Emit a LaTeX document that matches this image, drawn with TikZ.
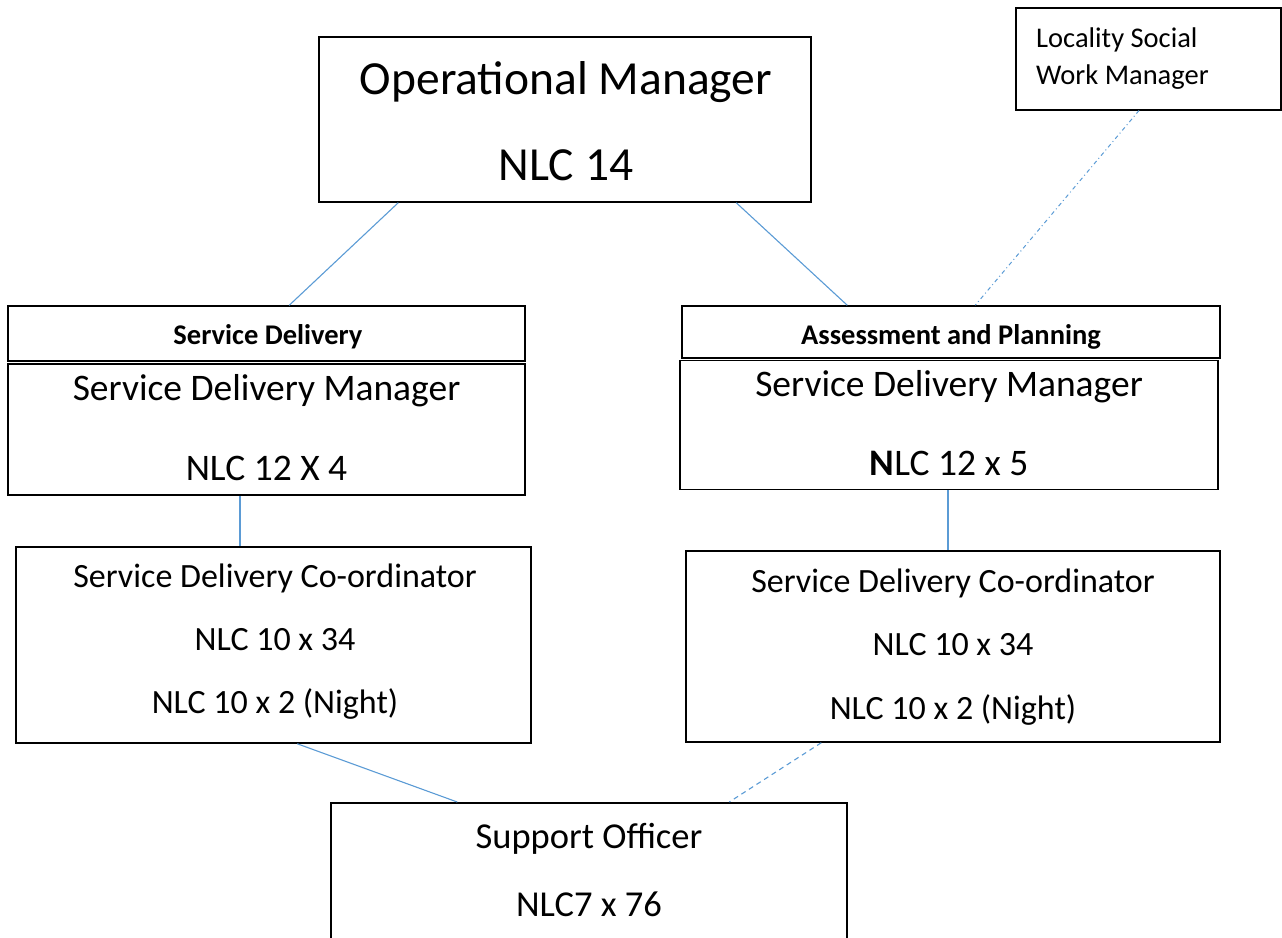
\documentclass[tikz,border=0pt]{standalone}
\usepackage{fontspec}
\setmainfont{Carlito}
\begin{document}
\begin{tikzpicture}[x=1pt,y=-1pt,
  box/.style={draw=black,line width=1.5pt,inner sep=0pt,fill=white},
  txt/.style={anchor=base,inner sep=0pt,text=black},
  link/.style={draw={rgb,255:red,91;green,155;blue,213},line width=1.1pt},
  linkdash/.style={link,dash pattern=on 5pt off 4pt},
  linkdashdot/.style={link,line width=1pt,dash pattern=on 4pt off 3pt on 1pt off 3pt},
  fsOM/.style={font=\fontsize{47.5}{52}\selectfont},
  fsSDM/.style={font=\fontsize{37.5}{40}\selectfont},
  fsCO/.style={font=\fontsize{34}{38}\selectfont},
  fsHD/.style={font=\fontsize{28.5}{32}\selectfont\bfseries},
  fsLO/.style={font=\fontsize{28.5}{32}\selectfont},
  fsSO/.style={font=\fontsize{36.5}{40}\selectfont}]
\useasboundingbox (0,0) rectangle (1282,937);
\clip (0,0) rectangle (1282,937);

% boxes
\node[box,minimum width=492pt,minimum height=165pt] (om) at (565,119.5) {};
\node[box,minimum width=265pt,minimum height=102pt,anchor=north west] (loc) at (1015,7) {};
\node[box,minimum width=517pt,minimum height=55pt] (sdh) at (266.5,333.5) {};
\node[box,minimum width=517pt,minimum height=131pt] (sdm) at (266.5,429.5) {};
\node[box,minimum width=538pt,minimum height=52pt] (aph) at (951,332) {};
\node[box,minimum width=538pt,minimum height=129pt] (apm) at (949,425) {};
\node[box,minimum width=515pt,minimum height=196pt] (sdc) at (273.5,645) {};
\node[box,minimum width=534pt,minimum height=191pt] (apc) at (953,646.5) {};
\node[box,minimum width=516pt,minimum height=160pt,anchor=north] (so) at (589,802) {};

% texts
\node[txt,fsOM] (omA) at (566,94) {Operational Manager};
\node[txt,fsOM] (omB) at (566,180) {NLC 14};

\node[txt,fsLO,anchor=base west] (locA) at (1036,47) {Locality Social};
\node[txt,fsLO,anchor=base west] (locB) at (1036,84) {Work Manager};

\node[txt,fsHD] (sdhT) at (268,344) {Service Delivery};
\node[txt,fsHD] (aphT) at (951,344) {Assessment and Planning};

\node[txt,fsSDM] (sdmA) at (266.5,400) {Service Delivery Manager};
\node[txt,fsSDM] (sdmB) at (266.5,480) {NLC 12 X 4};
\node[txt,fsSDM] (apmA) at (949,396) {Service Delivery Manager};
\node[txt,fsSDM] (apmB) at (949,475) {{\bfseries N}LC 12 x 5};

\node[txt,fsCO] (sdcA) at (275,587) {Service Delivery Co-ordinator};
\node[txt,fsCO] (sdcB) at (275,650) {NLC 10 x 34};
\node[txt,fsCO] (sdcC) at (275,713) {NLC 10 x 2 (Night)};
\node[txt,fsCO] (apcA) at (953,592) {Service Delivery Co-ordinator};
\node[txt,fsCO] (apcB) at (953,655) {NLC 10 x 34};
\node[txt,fsCO] (apcC) at (953,719) {NLC 10 x 2 (Night)};

\node[txt,fsSO] (soA) at (589,848) {Support Officer};
\node[txt,fsSO] (soB) at (589,916) {NLC7 x 76};

% connectors
\draw[link] ([xshift=80pt]om.south west) -- ([xshift=282pt]sdh.north west);
\draw[link] ([xshift=418pt]om.south west) -- ([xshift=166pt]aph.north west);
\draw[linkdashdot] ([xshift=124pt]loc.south west) -- ([xshift=294pt]aph.north west);
\draw[link] ([xshift=-26.5pt]sdm.south) -- ([xshift=-33.5pt]sdc.north);
\draw[link] ([xshift=-1pt]apm.south) -- ([xshift=-5pt]apc.north);
\draw[link] ([xshift=282pt]sdc.south west) -- ([xshift=127pt]so.north west);
\draw[linkdash] ([xshift=136pt]apc.south west) -- ([xshift=399pt]so.north west);
\end{tikzpicture}
\end{document}
